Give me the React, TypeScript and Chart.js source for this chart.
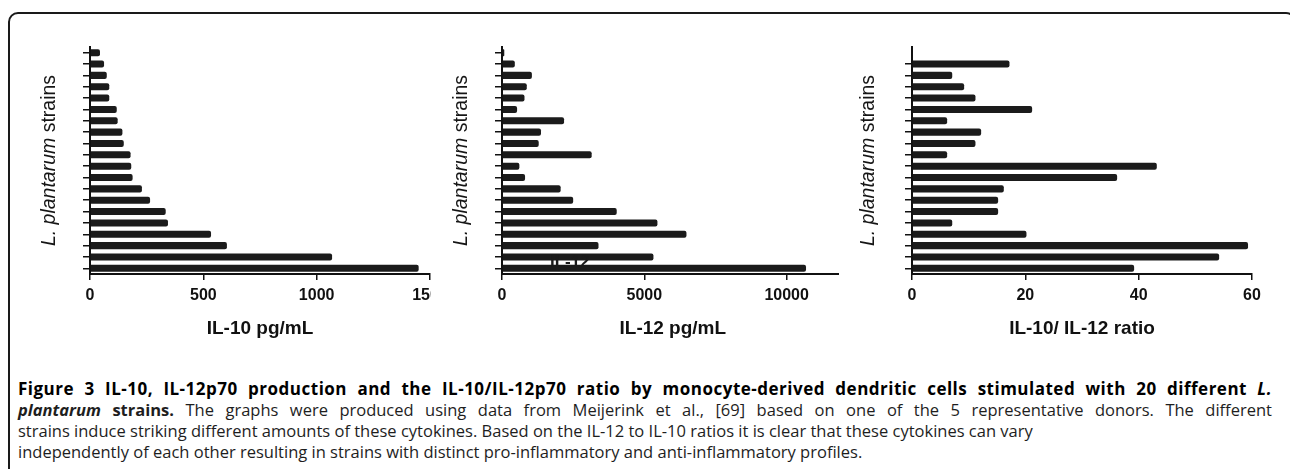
import React, { useEffect, useRef } from "react";
import { Chart, registerables } from "chart.js";

Chart.register(...registerables);

// ---------- data ----------
const strains = [
  "S1", "S2", "S3", "S4", "S5", "S6", "S7", "S8", "S9", "S10",
  "S11", "S12", "S13", "S14", "S15", "S16", "S17", "S18", "S19", "S20",
];
const il10Values = [44, 62, 74, 85, 85, 118, 122, 143, 149, 179, 182, 188, 229, 265, 334, 344, 534, 604, 1068, 1450];
const il12Values = [80, 450, 1050, 870, 790, 530, 2180, 1370, 1290, 3150, 610, 810, 2060, 2500, 4030, 5460, 6480, 3390, 5320, 10680];
const ratioValues = [null, 17.2, 7.1, 9.2, 11.2, 21.2, 6.2, 12.2, 11.2, 6.2, 43.2, 36.2, 16.2, 15.2, 15.2, 7.1, 20.2, 59.3, 54.2, 39.2];

const il10TickValues = [0, 500, 1000, 1500];
const il12TickValues = [0, 5000, 10000];
const ratioTickValues = [0, 20, 40, 60];

const il10Max = 1500;
const il12Max = 12000;
const ratioMax = 60;

const xTitles = ["IL-10 pg/mL", "IL-12 pg/mL", "IL-10/ IL-12 ratio"];
const yTitleItalic = "L. plantarum";
const yTitleNormal = " strains";
const strayLabelText = "IL-12";
const strayLabelValue = 2380;
const strayLabelIndex = 18.5;

// ---------- styles ----------
const FONT = '"Liberation Sans", Arial, Helvetica, sans-serif';
const INK = "#111111";
const BAR = "#1b1b1b";
const CANVAS_H = 350;
const PLOT_TOP = 47;
const PLOT_BOTTOM = 274;

const yTitlePlugin = {
  id: "yTitle",
  afterDraw(chart: any, _args: any, opts: any) {
    const { ctx, chartArea } = chart;
    const x = chartArea.left - opts.offset;
    const y = (chartArea.top + chartArea.bottom) / 2;
    ctx.save();
    ctx.translate(x, y);
    ctx.rotate(-Math.PI / 2);
    ctx.fillStyle = opts.color;
    ctx.textBaseline = "alphabetic";
    ctx.textAlign = "left";
    const italic = `italic ${opts.size}px ${FONT}`;
    const normal = `${opts.size}px ${FONT}`;
    ctx.font = italic;
    const w1 = ctx.measureText(yTitleItalic).width;
    ctx.font = normal;
    const w2 = ctx.measureText(yTitleNormal).width;
    const sx = -(w1 + w2) / 2;
    ctx.font = italic;
    ctx.fillText(yTitleItalic, sx, 0);
    ctx.font = normal;
    ctx.fillText(yTitleNormal, sx + w1, 0);
    ctx.restore();
  },
};

const strayLabelPlugin = {
  id: "strayLabel",
  afterDatasetsDraw(chart: any, _args: any, opts: any) {
    if (!opts || !opts.show) return;
    const { ctx, scales } = chart;
    const x = scales.x.getPixelForValue(strayLabelValue);
    const y = scales.y.getPixelForValue(strayLabelIndex);
    ctx.save();
    ctx.font = `bold 17px ${FONT}`;
    ctx.fillStyle = "#1a1a1a";
    ctx.textAlign = "center";
    ctx.textBaseline = "middle";
    ctx.fillText(strayLabelText, x, y);
    ctx.restore();
  },
};

type PanelCfg = {
  left: number;
  clipWidth: number;
  canvasWidth: number;
  axisX: number;
  rightX: number;
  max: number;
  ticks: number[];
  values: (number | null)[];
  title: string;
  yTitleOffset: number;
  hideFirstTick: boolean;
  stray: boolean;
};

const panels: PanelCfg[] = [
  { left: 14, clipWidth: 417, canvasWidth: 460, axisX: 90, rightX: 430, max: il10Max, ticks: il10TickValues, values: il10Values, title: xTitles[0], yTitleOffset: 35, hideFirstTick: false, stray: false },
  { left: 440, clipWidth: 399, canvasWidth: 460, axisX: 502, rightX: 843.6, max: il12Max, ticks: il12TickValues, values: il12Values, title: xTitles[1], yTitleOffset: 35.5, hideFirstTick: false, stray: true },
  { left: 850, clipWidth: 440, canvasWidth: 440, axisX: 912, rightX: 1252, max: ratioMax, ticks: ratioTickValues, values: ratioValues, title: xTitles[2], yTitleOffset: 38.5, hideFirstTick: true, stray: false },
];

function BarPanel({ cfg }: { cfg: PanelCfg }) {
  const ref = useRef<HTMLCanvasElement | null>(null);
  useEffect(() => {
    if (!ref.current) return;
    const yWidth = cfg.axisX - cfg.left;
    const padRight = cfg.left + cfg.canvasWidth - cfg.rightX;
    const chart = new Chart(ref.current, {
      type: "bar",
      data: {
        labels: strains,
        datasets: [
          {
            data: cfg.values as any,
            backgroundColor: BAR,
            borderRadius: 2,
            borderSkipped: "start",
            categoryPercentage: 1,
            barPercentage: 0.62,
          },
        ],
      },
      options: {
        animation: false,
        responsive: false,
        indexAxis: "y",
        layout: { padding: { left: 0, top: PLOT_TOP, right: padRight, bottom: 0 } },
        plugins: {
          legend: { display: false },
          tooltip: { enabled: false },
          yTitle: { offset: cfg.yTitleOffset, size: 19.5, color: "#151515" },
          strayLabel: { show: cfg.stray },
        } as any,
        scales: {
          x: {
            type: "linear",
            min: 0,
            max: cfg.max,
            afterBuildTicks: (s: any) => {
              s.ticks = cfg.ticks.map((v) => ({ value: v }));
            },
            afterFit: (s: any) => {
              s.height = CANVAS_H - PLOT_BOTTOM;
              s.paddingLeft = 0;
              s.paddingRight = 0;
            },
            ticks: {
              font: { family: FONT, weight: "bold", size: 16 },
              color: INK,
              padding: 6,
              maxRotation: 0,
              autoSkip: false,
              callback: (v: any) => String(v),
            },
            grid: {
              drawOnChartArea: false,
              drawTicks: true,
              tickLength: 6,
              color: INK,
              lineWidth: 1.5,
            },
            border: { display: true, color: INK, width: 2 },
            title: {
              display: true,
              text: cfg.title,
              font: { family: FONT, weight: "bold", size: 19 },
              color: INK,
              padding: { top: 0, bottom: 10 },
            },
          },
          y: {
            type: "category",
            afterFit: (s: any) => {
              s.width = yWidth;
              s.paddingTop = 0;
              s.paddingBottom = 0;
            },
            ticks: { display: false },
            grid: {
              drawOnChartArea: false,
              drawTicks: true,
              tickLength: 7,
              offset: false,
              color: cfg.hideFirstTick
                ? (ctx: any) => (ctx.index === 0 ? "rgba(0,0,0,0)" : INK)
                : INK,
              lineWidth: 1.5,
            },
            border: { display: true, color: INK, width: 2 },
          },
        },
      } as any,
      plugins: [yTitlePlugin, strayLabelPlugin],
    });
    return () => chart.destroy();
  }, [cfg]);

  return (
    <div
      style={{
        position: "absolute",
        left: cfg.left,
        top: 0,
        width: cfg.clipWidth,
        height: CANVAS_H,
        overflow: "hidden",
      }}
    >
      <canvas
        ref={ref}
        width={cfg.canvasWidth}
        height={CANVAS_H}
        style={{ display: "block", width: cfg.canvasWidth, height: CANVAS_H }}
      />
    </div>
  );
}

const captionStyle: React.CSSProperties = {
  position: "absolute",
  left: 18,
  width: 1254,
  fontFamily: '"Open Sans", "Noto Sans", sans-serif',
  fontSize: 16.5,
  lineHeight: "21px",
  color: "#1e1e1e",
  whiteSpace: "nowrap",
};

export default function App() {
  return (
    <div
      style={{
        position: "absolute",
        left: 0,
        top: 0,
        width: 1290,
        height: 469,
        overflow: "hidden",
        background: "#ffffff",
      }}
    >
      <div
        style={{
          position: "absolute",
          left: 8,
          top: 12,
          width: 1288,
          height: 520,
          border: "2px solid #1a1a1a",
          borderRadius: 10,
          boxSizing: "border-box",
        }}
      />
      {panels.map((p, i) => (
        <BarPanel key={i} cfg={p} />
      ))}
      <div style={{ ...captionStyle, top: 377.5 }}>
        <div style={{ textAlign: "justify", textAlignLast: "justify", fontWeight: 700, color: "#000", fontSize: 17, letterSpacing: "0.5px" } as any}>
          Figure 3 IL-10, IL-12p70 production and the IL-10/IL-12p70 ratio by monocyte-derived dendritic cells stimulated with 20 different <i>L.</i>
        </div>
        <div style={{ textAlign: "justify", textAlignLast: "justify" } as any}>
          <b><i>plantarum</i> strains.</b> The graphs were produced using data from Meijerink et al., [69] based on one of the 5 representative donors. The different
        </div>
        <div>
          strains induce striking different amounts of these cytokines. Based on the IL-12 to IL-10 ratios it is clear that these cytokines can vary
        </div>
        <div>
          independently of each other resulting in strains with distinct pro-inflammatory and anti-inflammatory profiles.
        </div>
      </div>
    </div>
  );
}
